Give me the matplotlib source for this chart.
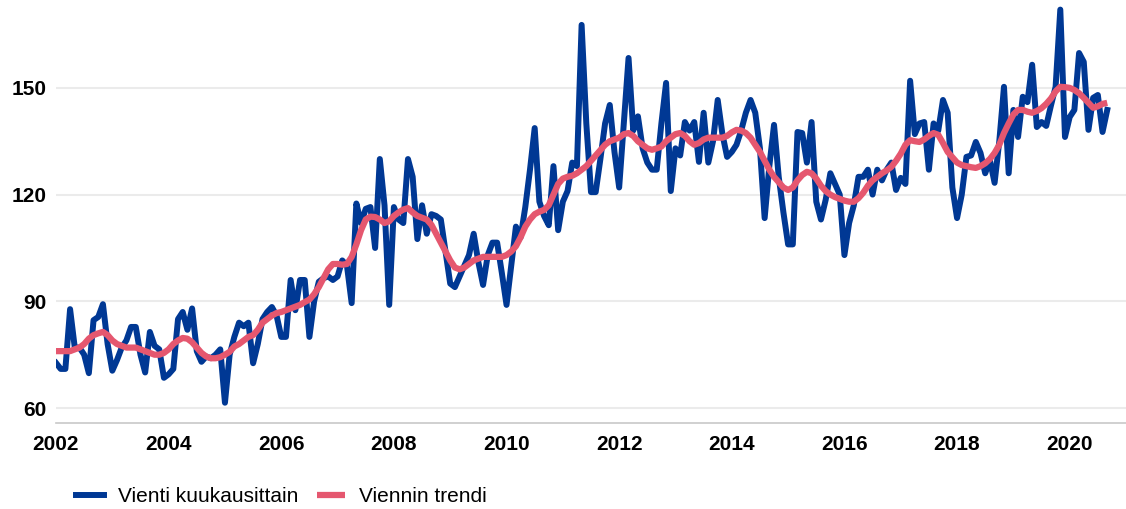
import numpy as np
import matplotlib.pyplot as plt

# monthly exports, Jan 2002 - Sep 2020
vienti = [
    72.7, 71, 71, 87.8, 77, 77, 75, 69.8, 84.7, 85.6, 89.2, 78,           # 2002
    70.5, 73.5, 77, 79, 82.8, 82.8, 75, 70, 81.4, 77.5, 76.5, 68.5,       # 2003
    69.5, 71, 85, 87, 82, 88, 76, 73, 74.5, 74, 75, 76.5,                 # 2004
    61.5, 75, 80, 84, 83, 84, 72.6, 78, 85, 87, 88.4, 86,                 # 2005
    80, 80, 96, 87.5, 96, 96, 80, 90, 95.5, 96.5, 97, 96,                 # 2006
    97, 101.5, 100, 89.5, 117.5, 112, 116, 116.5, 105, 130, 117, 89,      # 2007
    116.5, 113, 112, 130, 125, 107.5, 117, 109, 114.5, 114, 113, 104,     # 2008
    95, 94, 97, 100, 103, 109, 101, 94.6, 103, 106.5, 106.5, 98,          # 2009
    89, 100, 111, 108, 116.5, 127, 138.7, 118, 114, 111.4, 128, 110,      # 2010
    118, 121, 129, 128, 167.7, 140, 120.7, 120.7, 130, 140, 145.2, 132,   # 2011
    122, 140, 158.4, 138, 142, 133, 129, 127, 127, 140, 151.4, 121,       # 2012
    133, 131, 140.4, 138, 140.4, 129.2, 143, 129, 135, 146.6, 137, 130.6, # 2013
    132, 134, 138, 143, 146.6, 143, 133, 113.4, 128, 139.6, 125, 115,     # 2014
    106, 106, 137.6, 137.3, 129, 140.4, 118, 113, 118.5, 126, 123, 120,   # 2015
    103, 112, 117, 125, 125, 127, 120, 127, 124, 127, 129, 121.3,         # 2016
    124.7, 123, 152, 137, 140, 140.4, 127, 140, 138, 146.6, 143, 122,     # 2017
    113.4, 120, 130.6, 131, 134.8, 131.7, 126, 129.7, 123.3, 135, 150.3, 126,  # 2018
    143.8, 136.2, 147.5, 146, 156.5, 139, 140.4, 139.3, 145, 150.3, 172, 136.2,  # 2019
    141.8, 143.8, 159.8, 157.3, 138.2, 147.2, 148, 137.6, 143.8,          # 2020
]

trendi = [
    76, 76, 76, 76, 76.5, 77, 78, 79.5, 80.5, 81, 81.4, 80.5,
    79, 78, 77.5, 77, 77, 77, 76.5, 76, 75.5, 75, 75, 75.5,
    76.5, 78, 79, 79.7, 79.5, 78.5, 77, 75.5, 74.5, 74, 74, 74.3,
    75, 75.8, 77.3, 78, 79, 80, 80.5, 82, 84, 85, 86, 86.7,
    87, 87.5, 88, 88.5, 89, 89.8, 90.5, 92, 94, 96.5, 99, 100.5,
    100.5, 100.3, 100.5, 102.5, 106, 110, 113, 113.8, 113.7, 113, 112, 112.5,
    114, 115, 115.8, 116.2, 115, 114, 113.5, 113, 111.5, 109, 106.5, 104,
    101.5, 99.5, 99, 99.5, 100.5, 101.5, 102, 102.5, 102.5, 102.5, 102.5, 102.5,
    103, 104, 105.5, 108, 111, 113, 114.5, 115.2, 115.7, 117, 120, 123,
    124.5, 125, 125.3, 126, 127, 128, 129.5, 131, 132.5, 134, 135, 135.5,
    136, 137, 137.3, 136.5, 135, 134, 133, 132.6, 133, 133.5, 135, 136,
    137, 137.3, 136.5, 135, 134, 134.5, 135.5, 136, 136, 136, 136, 136.5,
    137.5, 138.2, 138, 137.3, 136, 134, 132, 129.5, 127, 125, 123.5, 122,
    121.3, 122, 124, 125.5, 126.4, 126, 124.5, 122.5, 121, 120, 119.3, 118.8,
    118.3, 118, 118, 119, 120.5, 122.5, 124, 125, 126, 126.8, 127.8, 129.5,
    131.5, 134, 135.3, 135, 134.8, 135.5, 136.5, 137.3, 136.8, 134.5, 132, 130.5,
    129, 128.3, 128, 127.7, 127.5, 128, 128.8, 130, 131.7, 134, 137.3, 140,
    142.5, 143.8, 143.8, 143.3, 143, 143.5, 144.3, 145.5, 147, 149, 150.3, 150.2,
    150, 149.4, 148.5, 147.2, 145.8, 144.4, 144.8, 145.5, 145.8,
]

vuodet = list(range(2002, 2021, 2))
y_ticks = [60, 90, 120, 150]

x = 2002 + np.arange(len(vienti)) / 12

plt.rcParams['font.family'] = ['Liberation Sans', 'DejaVu Sans']

fig = plt.figure(figsize=(11.26, 5.09), dpi=100)
ax = fig.add_axes([56 / 1126, 1 - 423 / 509, 1 - 56 / 1126, 423 / 509])

ax.plot(x, vienti, color='#003894', lw=4.3, solid_joinstyle='round',
        label='Vienti kuukausittain', zorder=3)
ax.plot(x, trendi, color='#E5576F', lw=4.5, solid_capstyle='butt',
        label='Viennin trendi', zorder=4)

ax.set_xlim(2002, 2021)
ax.set_ylim(55.8, 174.7)
ax.set_xticks(vuodet)
ax.set_xticklabels([str(v) for v in vuodet])
ax.set_yticks(y_ticks)

ax.grid(axis='y', color='#ebebeb', lw=1.5)
ax.set_axisbelow(True)
for s in ['top', 'right', 'left']:
    ax.spines[s].set_visible(False)
ax.spines['bottom'].set_color('#c8c8c8')
ax.spines['bottom'].set_linewidth(1.2)

ax.tick_params(axis='both', length=0, labelsize=15)
ax.tick_params(axis='x', pad=9)
ax.tick_params(axis='y', pad=7)
for lab in ax.get_xticklabels() + ax.get_yticklabels():
    lab.set_fontweight('bold')

h, l = ax.get_legend_handles_labels()
fig.legend(h, l, loc='center left', bbox_to_anchor=(57 / 1126, 1 - 497 / 509),
           ncol=2, frameon=False, fontsize=15, handlelength=1.35,
           handletextpad=0.7, columnspacing=0.85)

fig.savefig('out.png', dpi=100)
